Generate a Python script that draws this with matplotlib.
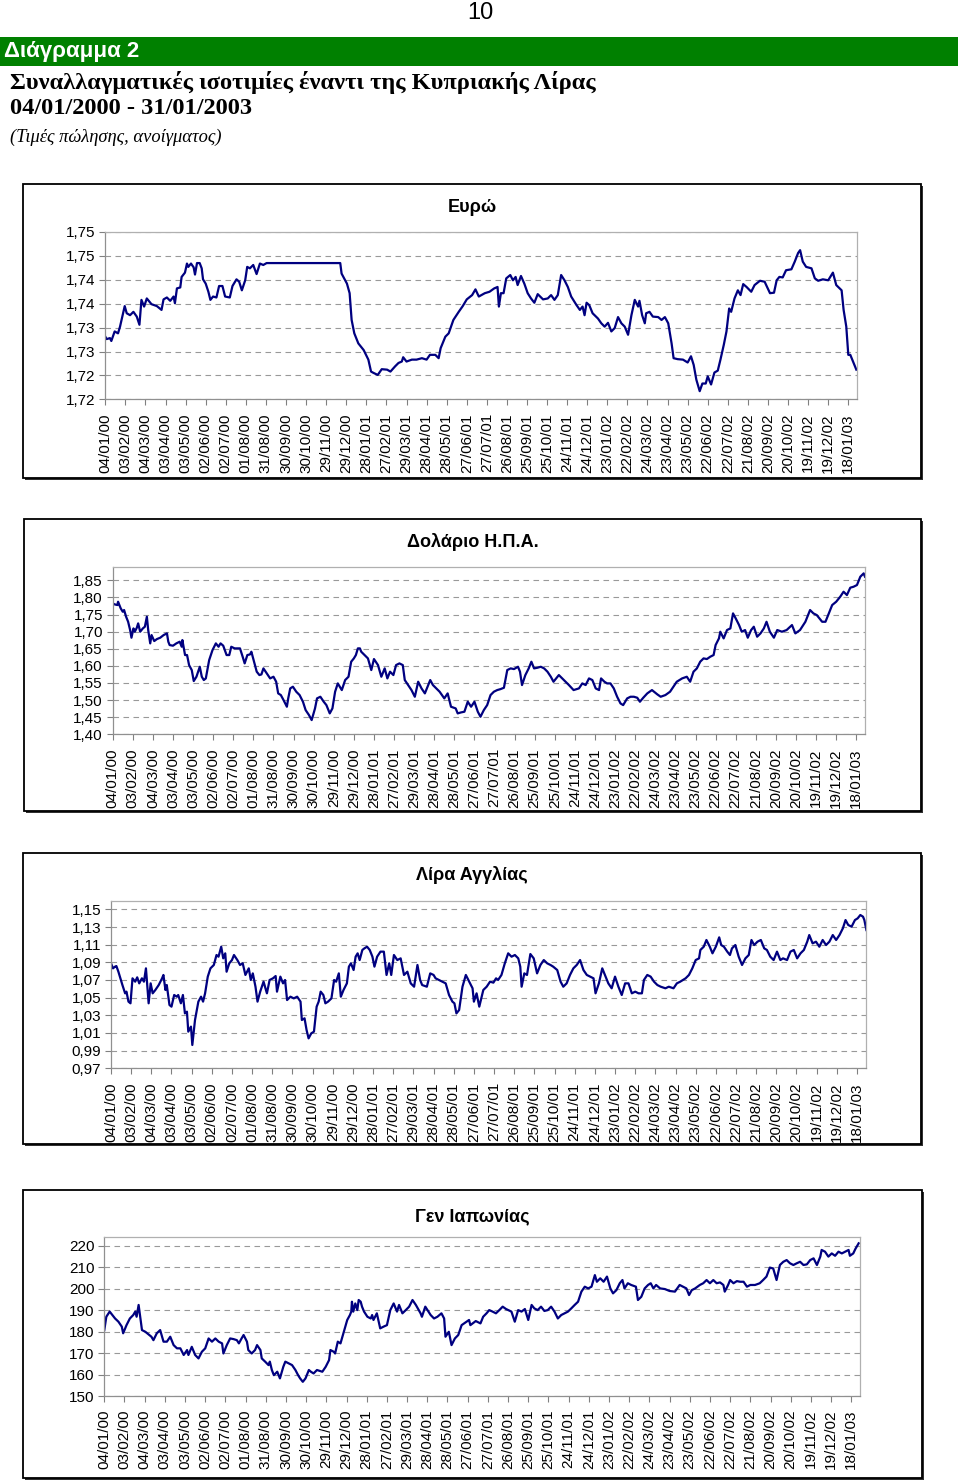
import matplotlib
matplotlib.use("Agg")
import matplotlib.pyplot as plt
from matplotlib.patches import Rectangle
import pandas as pd

plt.rcParams['font.family'] = ['Liberation Sans', 'DejaVu Sans']

# ---------------- data ----------------
START = "2000-01-04"
END = "2003-01-31"

xtick_labels = ["04/01/00", "03/02/00", "04/03/00", "03/04/00", "03/05/00", "02/06/00",
                "02/07/00", "01/08/00", "31/08/00", "30/09/00", "30/10/00", "29/11/00",
                "29/12/00", "28/01/01", "27/02/01", "29/03/01", "28/04/01", "28/05/01",
                "27/06/01", "27/07/01", "26/08/01", "25/09/01", "25/10/01", "24/11/01",
                "24/12/01", "23/01/02", "22/02/02", "24/03/02", "23/04/02", "23/05/02",
                "22/06/02", "22/07/02", "21/08/02", "20/09/02", "20/10/02", "19/11/02",
                "19/12/02", "18/01/03"]

# days after 04/01/2000
eur_days = [0, 2, 7, 9, 14, 19, 22, 26, 29, 32, 37, 42, 47, 51, 54, 58, 62, 69, 77, 84, 87, 92, 97,
            102, 104, 107, 112, 114, 119, 122, 124, 128, 132, 134, 137, 141, 144, 146, 150, 154,
            157, 161, 166, 170, 175, 179, 186, 190, 196, 200, 204, 209, 212, 216, 221, 226, 231,
            236, 241, 351, 353, 361, 365, 368, 372, 378, 386, 393, 397, 401, 407, 413, 421, 426,
            433, 438, 443, 445, 450, 458, 465, 473, 480, 485, 493, 498, 501, 508, 513, 520, 528,
            534, 540, 548, 553, 558, 567, 574, 581, 586, 588, 591, 595, 599, 605, 609, 613, 616,
            621, 626, 631, 636, 641, 646, 654, 661, 666, 671, 676, 681, 686, 691, 696, 704, 709,
            713, 716, 719, 723, 728, 736, 741, 746, 751, 756, 761, 766, 771, 776, 781, 786, 791,
            796, 798, 802, 806, 808, 813, 818, 826, 831, 836, 841, 846, 849, 855, 863, 870, 875,
            879, 883, 888, 892, 897, 900, 905, 910, 915, 919, 924, 928, 932, 935, 940, 945, 949,
            953, 958, 965, 970, 978, 985, 993, 999, 1003, 1007, 1012, 1017, 1025, 1030, 1035,
            1038, 1042, 1047, 1055, 1060, 1065, 1072, 1080, 1087, 1092, 1100, 1103, 1107, 1110,
            1113, 1117, 1122]
eur_rate = [1.7281, 1.7276, 1.7278, 1.7272, 1.7292, 1.7288, 1.7302, 1.7326, 1.7345, 1.7330, 1.7326,
            1.7333, 1.7323, 1.7306, 1.7358, 1.7344, 1.7361, 1.7349, 1.7345, 1.7337, 1.7359, 1.7363,
            1.7356, 1.7365, 1.7351, 1.7382, 1.7384, 1.7406, 1.7415, 1.7434, 1.7427, 1.7434, 1.7426,
            1.7411, 1.7435, 1.7435, 1.7424, 1.7401, 1.7392, 1.7375, 1.7358, 1.7365, 1.7363, 1.7387,
            1.7387, 1.7365, 1.7363, 1.7387, 1.7401, 1.7396, 1.7378, 1.7399, 1.7427, 1.7424, 1.7431,
            1.7412, 1.7434, 1.7431, 1.7435, 1.7435, 1.7413, 1.7392, 1.7372, 1.7316, 1.7288, 1.7267,
            1.7253, 1.7233, 1.7208, 1.7205, 1.7201, 1.7213, 1.7212, 1.7208, 1.7219, 1.7226, 1.7229,
            1.7238, 1.7229, 1.7233, 1.7233, 1.7236, 1.7233, 1.7243, 1.7243, 1.7236, 1.7257, 1.7281,
            1.7288, 1.7316, 1.7333, 1.7345, 1.7359, 1.7368, 1.7380, 1.7365, 1.7372, 1.7375, 1.7382,
            1.7385, 1.7344, 1.7372, 1.7372, 1.7403, 1.7410, 1.7399, 1.7406, 1.7389, 1.7408, 1.7392,
            1.7372, 1.7361, 1.7352, 1.7370, 1.7359, 1.7361, 1.7368, 1.7358, 1.7368, 1.7410, 1.7399,
            1.7385, 1.7365, 1.7347, 1.7337, 1.7344, 1.7326, 1.7352, 1.7347, 1.7330, 1.7319, 1.7309,
            1.7302, 1.7310, 1.7292, 1.7299, 1.7322, 1.7309, 1.7302, 1.7285, 1.7326, 1.7358, 1.7344,
            1.7356, 1.7326, 1.7309, 1.7330, 1.7333, 1.7323, 1.7322, 1.7316, 1.7322, 1.7309, 1.7267,
            1.7236, 1.7234, 1.7233, 1.7227, 1.7240, 1.7222, 1.7191, 1.7167, 1.7183, 1.7183, 1.7198,
            1.7181, 1.7206, 1.7210, 1.7233, 1.7264, 1.7292, 1.7340, 1.7333, 1.7361, 1.7378, 1.7368,
            1.7391, 1.7385, 1.7375, 1.7389, 1.7398, 1.7396, 1.7372, 1.7373, 1.7399, 1.7406, 1.7405,
            1.7420, 1.7422, 1.7438, 1.7456, 1.7462, 1.7438, 1.7427, 1.7424, 1.7403, 1.7398, 1.7401,
            1.7399, 1.7415, 1.7389, 1.7378, 1.7337, 1.7302, 1.7243, 1.7243, 1.7229, 1.7212]

usd_days = [0, 3, 7, 8, 12, 15, 17, 20, 23, 26, 28, 31, 33, 36, 38, 41, 45, 48, 51, 53, 56, 58, 62,
            66, 71, 76, 81, 83, 85, 90, 95, 100, 103, 104, 108, 111, 114, 118, 121, 125, 130, 133,
            136, 139, 144, 149, 154, 158, 161, 165, 170, 174, 177, 182, 187, 190, 194, 197, 201,
            205, 207, 211, 215, 219, 222, 225, 230, 235, 240, 244, 247, 251, 255, 260, 262, 265,
            269, 274, 279, 284, 288, 293, 297, 302, 305, 310, 315, 319, 324, 328, 332, 336, 342,
            347, 352, 356, 360, 363, 366, 369, 371, 376, 381, 386, 390, 396, 401, 406, 410, 414,
            419, 423, 428, 433, 436, 441, 446, 451, 456, 461, 466, 471, 474, 478, 483, 488, 495,
            500, 505, 512, 515, 520, 525, 530, 535, 540, 545, 549, 554, 559, 564, 569, 574, 579,
            584, 589, 594, 599, 605, 608, 611, 616, 621, 625, 629, 634, 639, 644, 649, 654, 658,
            666, 671, 676, 681, 688, 696, 701, 706, 711, 716, 721, 726, 729, 734, 738, 743, 748,
            753, 758, 762, 768, 773, 778, 783, 787, 792, 798, 805, 813, 818, 825, 832, 837, 842,
            850, 857, 862, 867, 872, 877, 882, 887, 892, 897, 900, 905, 907, 912, 917, 922, 926,
            930, 935, 939, 944, 948, 953, 957, 962, 967, 972, 976, 981, 987, 992, 999, 1006, 1014,
            1019, 1026, 1034, 1041, 1046, 1051, 1059, 1064, 1069, 1074, 1080, 1086, 1091, 1096,
            1101, 1106, 1111, 1116, 1121, 1123]
usd_rate = [1.7827, 1.7798, 1.7779, 1.7876, 1.7681, 1.7584, 1.7633, 1.7438, 1.7291, 1.7048, 1.6824,
            1.7096, 1.6999, 1.7116, 1.7243, 1.6999, 1.7096, 1.7145, 1.7438, 1.7048, 1.6658, 1.6901,
            1.6726, 1.6784, 1.6824, 1.6901, 1.6950, 1.6707, 1.6609, 1.6590, 1.6658, 1.6707, 1.6560,
            1.6755, 1.6317, 1.6317, 1.6024, 1.5878, 1.5557, 1.5683, 1.5975, 1.5683, 1.5586, 1.5634,
            1.6170, 1.6463, 1.6658, 1.6560, 1.6658, 1.6590, 1.6317, 1.6317, 1.6560, 1.6512, 1.6512,
            1.6512, 1.6268, 1.6073, 1.6317, 1.6336, 1.6414, 1.6122, 1.5830, 1.5732, 1.5751, 1.5927,
            1.5781, 1.5634, 1.5683, 1.5537, 1.5196, 1.5147, 1.5001, 1.4806, 1.5050, 1.5342, 1.5391,
            1.5245, 1.5147, 1.4952, 1.4708, 1.4562, 1.4416, 1.4757, 1.5050, 1.5098, 1.4952, 1.4854,
            1.4611, 1.4757, 1.5245, 1.5488, 1.5293, 1.5586, 1.5683, 1.6122, 1.6219, 1.6317, 1.6512,
            1.6512, 1.6414, 1.6317, 1.6219, 1.5878, 1.6200, 1.6024, 1.5683, 1.5927, 1.5634, 1.5830,
            1.5732, 1.6024, 1.6073, 1.6024, 1.5586, 1.5440, 1.5293, 1.5098, 1.5537, 1.5342, 1.5196,
            1.5440, 1.5586, 1.5440, 1.5342, 1.5245, 1.5050, 1.5196, 1.4806, 1.4757, 1.4611, 1.4640,
            1.4660, 1.4952, 1.4806, 1.4952, 1.4660, 1.4513, 1.4708, 1.4854, 1.5147, 1.5245, 1.5293,
            1.5322, 1.5361, 1.5878, 1.5927, 1.5907, 1.5975, 1.5830, 1.5439, 1.5732, 1.5927, 1.6122,
            1.5927, 1.5946, 1.5975, 1.5927, 1.5830, 1.5683, 1.5537, 1.5732, 1.5634, 1.5537, 1.5440,
            1.5293, 1.5342, 1.5488, 1.5440, 1.5634, 1.5586, 1.5342, 1.5293, 1.5634, 1.5537, 1.5488,
            1.5488, 1.5342, 1.5098, 1.4903, 1.4854, 1.5050, 1.5098, 1.5098, 1.5069, 1.4952, 1.5069,
            1.5196, 1.5293, 1.5167, 1.5098, 1.5147, 1.5245, 1.5391, 1.5537, 1.5634, 1.5683, 1.5537,
            1.5830, 1.5927, 1.6122, 1.6219, 1.6200, 1.6268, 1.6317, 1.6609, 1.6804, 1.6999, 1.6804,
            1.7048, 1.7096, 1.7535, 1.7389, 1.7194, 1.6999, 1.7048, 1.6824, 1.7048, 1.7145, 1.6853,
            1.6950, 1.7096, 1.7290, 1.6999, 1.6824, 1.7048, 1.6999, 1.7048, 1.7194, 1.6950, 1.7048,
            1.7290, 1.7633, 1.7535, 1.7486, 1.7290, 1.7290, 1.7535, 1.7779, 1.7876, 1.8022, 1.8169,
            1.8071, 1.8286, 1.8315, 1.8364, 1.8607, 1.8705, 1.8607]

gbp_days = [0, 3, 6, 8, 11, 14, 17, 21, 23, 26, 29, 32, 36, 39, 42, 46, 49, 52, 56, 59, 62, 66, 71,
            76, 78, 81, 83, 87, 90, 94, 98, 100, 104, 107, 110, 113, 115, 119, 121, 125, 130, 134,
            137, 140, 144, 148, 153, 157, 160, 164, 167, 170, 172, 176, 180, 183, 188, 192, 196,
            200, 205, 208, 211, 215, 218, 222, 227, 232, 236, 241, 245, 247, 252, 256, 259, 262,
            267, 272, 277, 282, 284, 288, 291, 294, 298, 302, 306, 309, 312, 316, 319, 323, 328,
            332, 335, 339, 342, 346, 351, 354, 357, 361, 364, 367, 370, 374, 377, 381, 385, 389,
            392, 396, 401, 406, 410, 414, 417, 421, 426, 431, 436, 441, 446, 451, 456, 460, 463,
            470, 475, 480, 483, 488, 493, 498, 503, 508, 511, 514, 518, 523, 528, 533, 538, 540,
            544, 548, 554, 559, 564, 569, 573, 576, 581, 586, 591, 596, 601, 606, 609, 611, 615,
            619, 624, 629, 634, 639, 644, 649, 654, 658, 664, 669, 673, 678, 683, 688, 693, 698,
            703, 708, 713, 718, 721, 726, 731, 736, 740, 745, 750, 755, 760, 765, 770, 775, 780,
            785, 790, 793, 798, 803, 808, 813, 818, 825, 830, 837, 842, 847, 855, 860, 865, 870,
            875, 877, 882, 886, 891, 895, 900, 905, 908, 912, 917, 921, 924, 929, 934, 939, 944,
            949, 953, 957, 962, 967, 972, 976, 981, 986, 991, 996, 1000, 1006, 1011, 1016, 1021,
            1026, 1031, 1036, 1039, 1044, 1049, 1054, 1059, 1064, 1069, 1074, 1079, 1084, 1089,
            1093, 1097, 1102, 1107, 1111, 1115, 1119, 1121, 1124]
gbp_rate = [1.0889, 1.0832, 1.0851, 1.0858, 1.0794, 1.0719, 1.0643, 1.0549, 1.0568, 1.0455, 1.0436,
            1.0719, 1.0681, 1.0730, 1.0662, 1.0719, 1.0681, 1.0832, 1.0436, 1.0662, 1.0549, 1.0587,
            1.0643, 1.0719, 1.0757, 1.0587, 1.0643, 1.0417, 1.0398, 1.0530, 1.0511, 1.0530, 1.0436,
            1.0530, 1.0322, 1.0341, 1.0115, 1.0172, 0.9964, 1.0247, 1.0455, 1.0511, 1.0455, 1.0549,
            1.0738, 1.0832, 1.0870, 1.0983, 1.0964, 1.1077, 1.0945, 1.1002, 1.0794, 1.0889, 1.0926,
            1.0983, 1.0926, 1.0870, 1.0889, 1.0757, 1.0832, 1.0700, 1.0775, 1.0624, 1.0455, 1.0568,
            1.0681, 1.0549, 1.0700, 1.0719, 1.0745, 1.0568, 1.0738, 1.0662, 1.0700, 1.0473, 1.0511,
            1.0492, 1.0511, 1.0455, 1.0247, 1.0266, 1.0134, 1.0039, 1.0096, 1.0115, 1.0398, 1.0455,
            1.0568, 1.0530, 1.0436, 1.0455, 1.0492, 1.0700, 1.0681, 1.0775, 1.0511, 1.0587, 1.0662,
            1.0851, 1.0889, 1.0813, 1.0964, 1.1002, 1.0926, 1.1040, 1.1058, 1.1077, 1.1040, 1.0964,
            1.0851, 1.0964, 1.1021, 1.1021, 1.0757, 1.0889, 1.0757, 1.0983, 1.0926, 1.0945, 1.0757,
            1.0794, 1.0662, 1.0624, 1.0870, 1.0700, 1.0643, 1.0624, 1.0775, 1.0757, 1.0719, 1.0700,
            1.0681, 1.0662, 1.0530, 1.0455, 1.0436, 1.0322, 1.0360, 1.0624, 1.0757, 1.0681, 1.0606,
            1.0455, 1.0549, 1.0398, 1.0587, 1.0624, 1.0681, 1.0670, 1.0719, 1.0700, 1.0757, 1.0889,
            1.1002, 1.0964, 1.0983, 1.0945, 1.0851, 1.0624, 1.0775, 1.0757, 1.0994, 1.0945, 1.0775,
            1.0870, 1.0926, 1.0889, 1.0870, 1.0851, 1.0813, 1.0681, 1.0624, 1.0662, 1.0757, 1.0832,
            1.0870, 1.0926, 1.0813, 1.0757, 1.0738, 1.0719, 1.0549, 1.0662, 1.0832, 1.0738, 1.0662,
            1.0606, 1.0738, 1.0624, 1.0530, 1.0662, 1.0662, 1.0549, 1.0568, 1.0549, 1.0549, 1.0700,
            1.0757, 1.0738, 1.0681, 1.0643, 1.0624, 1.0606, 1.0624, 1.0606, 1.0662, 1.0681, 1.0719,
            1.0757, 1.0832, 1.0926, 1.0945, 1.1040, 1.1077, 1.1153, 1.1077, 1.1002, 1.1077, 1.1183,
            1.1096, 1.1077, 1.1021, 1.0983, 1.1058, 1.1096, 1.0964, 1.0870, 1.0945, 1.0983, 1.1153,
            1.1096, 1.1134, 1.1153, 1.1058, 1.1040, 1.0964, 1.0926, 1.1021, 1.0926, 1.0945, 1.0926,
            1.1021, 1.1040, 1.0945, 1.1002, 1.1040, 1.1134, 1.1209, 1.1115, 1.1134, 1.1077, 1.1153,
            1.1096, 1.1134, 1.1209, 1.1153, 1.1209, 1.1285, 1.1379, 1.1323, 1.1304, 1.1379, 1.1398,
            1.1436, 1.1417, 1.1379, 1.1266]

jpy_days = [0, 3, 8, 16, 21, 26, 28, 33, 38, 43, 46, 48, 51, 56, 61, 70, 73, 78, 83, 88, 93, 98,
            103, 108, 113, 118, 123, 125, 130, 135, 140, 145, 150, 155, 160, 165, 170, 175, 177,
            182, 187, 192, 197, 200, 204, 207, 212, 214, 219, 224, 227, 232, 234, 239, 244, 246,
            249, 252, 257, 261, 266, 269, 274, 279, 284, 288, 291, 295, 299, 304, 307, 311, 316,
            324, 329, 334, 336, 341, 343, 347, 351, 356, 361, 365, 367, 368, 370, 373, 376, 378,
            381, 383, 386, 391, 396, 398, 400, 405, 410, 415, 420, 425, 430, 435, 438, 443, 448,
            453, 458, 463, 470, 472, 477, 485, 490, 495, 501, 505, 507, 512, 516, 521, 526, 531,
            537, 542, 544, 552, 559, 563, 568, 572, 577, 582, 587, 592, 597, 605, 610, 615, 620,
            625, 630, 635, 639, 644, 649, 654, 659, 664, 669, 674, 679, 684, 689, 694, 699, 704,
            709, 714, 719, 724, 729, 732, 737, 742, 747, 752, 756, 761, 766, 770, 773, 778, 783,
            790, 793, 798, 803, 808, 812, 816, 820, 826, 833, 840, 848, 855, 860, 865, 869, 873,
            878, 885, 890, 895, 900, 905, 910, 915, 920, 922, 927, 930, 935, 940, 945, 950, 955,
            960, 967, 974, 979, 984, 989, 994, 999, 1004, 1009, 1014, 1019, 1024, 1029, 1034, 1039,
            1044, 1049, 1054, 1059, 1064, 1066, 1071, 1076, 1081, 1086, 1091, 1096, 1101, 1106,
            1108, 1113, 1116, 1121]
jpy_rate = [180.7, 186.9, 189.3, 186.1, 184.6, 182.3, 179.2, 183.0, 186.1, 187.7, 189.3, 186.9,
            192.4, 180.7, 179.9, 177.6, 176.0, 179.2, 180.7, 175.3, 175.3, 177.6, 173.7, 172.2,
            172.2, 169.1, 171.4, 169.1, 172.9, 169.1, 167.5, 170.6, 172.2, 176.8, 175.3, 176.8,
            175.3, 174.5, 169.8, 173.7, 176.8, 176.5, 176.0, 174.5, 176.8, 178.4, 175.3, 171.4,
            169.8, 171.4, 173.7, 171.4, 167.5, 166.0, 164.4, 166.0, 162.1, 159.7, 161.3, 158.2,
            163.6, 166.0, 165.2, 164.4, 162.1, 159.7, 158.2, 156.6, 158.2, 162.1, 161.3, 160.5,
            162.1, 161.3, 163.6, 166.7, 171.4, 170.6, 169.8, 175.3, 174.5, 179.9, 185.4, 187.7,
            189.3, 193.9, 189.3, 193.1, 190.0, 194.7, 193.9, 191.6, 189.3, 186.9, 186.1, 187.7,
            185.4, 188.5, 181.5, 182.3, 183.0, 190.0, 193.1, 189.3, 192.4, 188.5, 190.0, 191.6,
            194.7, 192.4, 188.5, 186.9, 191.6, 187.7, 186.1, 186.9, 188.5, 186.1, 177.6, 179.9,
            173.7, 176.8, 178.4, 183.0, 184.3, 185.4, 183.0, 184.9, 183.8, 186.9, 188.5, 190.0,
            189.3, 188.5, 190.0, 191.6, 190.5, 189.3, 184.6, 190.0, 189.3, 190.5, 185.4, 192.4,
            190.8, 190.0, 191.6, 189.6, 190.0, 191.6, 189.3, 186.1, 187.7, 188.5, 189.3, 190.8,
            192.4, 193.9, 198.6, 200.9, 200.1, 200.9, 206.3, 203.2, 204.8, 203.2, 205.6, 200.1,
            197.8, 199.3, 202.5, 204.0, 200.1, 202.5, 201.7, 200.9, 194.7, 196.2, 200.1, 201.7,
            202.5, 200.1, 201.7, 200.1, 199.8, 198.9, 198.6, 201.7, 200.9, 200.1, 197.0, 199.3,
            200.1, 201.7, 202.5, 204.0, 202.5, 204.0, 202.5, 202.9, 201.7, 198.6, 201.7, 204.0,
            202.5, 203.5, 203.2, 203.2, 200.9, 201.7, 201.7, 202.5, 204.0, 205.6, 209.8, 209.4,
            204.0, 211.0, 212.5, 213.3, 211.8, 211.0, 211.8, 212.5, 211.0, 211.3, 213.3, 214.1,
            211.0, 214.9, 218.0, 217.2, 214.9, 216.4, 215.3, 217.2, 216.4, 217.2, 218.0, 215.3,
            216.4, 218.4, 221.1]

eur_yticks = [1.715, 1.72, 1.725, 1.73, 1.735, 1.74, 1.745, 1.75]
eur_ylabels = ["1,72", "1,72", "1,73", "1,73", "1,74", "1,74", "1,75", "1,75"]
usd_yticks = [1.40, 1.45, 1.50, 1.55, 1.60, 1.65, 1.70, 1.75, 1.80, 1.85]
usd_ylabels = ["1,40", "1,45", "1,50", "1,55", "1,60", "1,65", "1,70", "1,75", "1,80", "1,85"]
gbp_yticks = [0.97, 0.99, 1.01, 1.03, 1.05, 1.07, 1.09, 1.11, 1.13, 1.15]
gbp_ylabels = ["0,97", "0,99", "1,01", "1,03", "1,05", "1,07", "1,09", "1,11", "1,13", "1,15"]
jpy_yticks = [150, 160, 170, 180, 190, 200, 210, 220]
jpy_ylabels = ["150", "160", "170", "180", "190", "200", "210", "220"]

titles = ["Ευρώ", "Δολάριο Η.Π.Α.", "Λίρα Αγγλίας", "Γεν Ιαπωνίας"]

# ---------------- layout (pixels) ----------------
W, H = 960, 1481
fig = plt.figure(figsize=(W / 100, H / 100), dpi=100)


def fig_rect(l, t, r, b):
    return [l / W, 1 - b / H, (r - l) / W, (b - t) / H]


SERIF = ["Liberation Serif", "DejaVu Serif"]

# header
fig.text(480 / W, 1 - 13 / H, "10", ha="center", va="center", fontsize=17)
fig.patches.append(Rectangle((0, 1 - 66 / H), 958 / W, 29 / H, transform=fig.transFigure,
                             facecolor="#008000", edgecolor="none"))
fig.text(4 / W, 1 - 52 / H, "Διάγραμμα 2", ha="left", va="center", fontsize=16,
         fontweight="bold", color="white")
fig.text(10 / W, 1 - 82 / H, "Συναλλαγματικές ισοτιμίες έναντι της Κυπριακής Λίρας",
         ha="left", va="center", fontsize=17.6, fontweight="bold", family=SERIF)
fig.text(10 / W, 1 - 108 / H, "04/01/2000 - 31/01/2003", ha="left", va="center",
         fontsize=17.6, fontweight="bold", family=SERIF)
fig.text(10 / W, 1 - 137 / H, "(Τιμές πώλησης, ανοίγματος)", ha="left", va="center",
         fontsize=13.3, style="italic", family=SERIF)

panels = [
    dict(box=(23, 184, 921, 478), plot=(105.3, 232, 857, 399.3), ty=207,
         days=eur_days, vals=eur_rate, yt=eur_yticks, yl=eur_ylabels, ylim=(1.715, 1.75)),
    dict(box=(24, 519, 921, 811), plot=(112.7, 566.7, 865, 734.3), ty=542,
         days=usd_days, vals=usd_rate, yt=usd_yticks, yl=usd_ylabels, ylim=(1.40, 1.890)),
    dict(box=(23, 853, 921, 1144), plot=(111, 900.7, 865.7, 1068.3), ty=875,
         days=gbp_days, vals=gbp_rate, yt=gbp_yticks, yl=gbp_ylabels, ylim=(0.97, 1.1598)),
    dict(box=(23, 1190, 922, 1478), plot=(104.3, 1237.3, 860, 1396), ty=1217,
         days=jpy_days, vals=jpy_rate, yt=jpy_yticks, yl=jpy_ylabels, ylim=(150, 223.9)),
]

start = pd.Timestamp(START)
xticks = pd.to_datetime(xtick_labels, format="%d/%m/%y")

for p, title in zip(panels, titles):
    bl, bt, br, bb = p["box"]
    # shadow and frame
    fig.patches.append(Rectangle(((bl + 2) / W, 1 - (bb + 2) / H), (br - bl) / W, (bb - bt) / H,
                                 transform=fig.transFigure, facecolor="#303030",
                                 edgecolor="none", zorder=-3))
    fig.patches.append(Rectangle((bl / W, 1 - bb / H), (br - bl) / W, (bb - bt) / H,
                                 transform=fig.transFigure, facecolor="white",
                                 edgecolor="black", linewidth=1.3, zorder=-2))
    fig.text((bl + br) / 2 / W, 1 - p["ty"] / H, title, ha="center",
             va="center", fontsize=13, fontweight="bold")

    ax = fig.add_axes(fig_rect(*p["plot"]))
    dates = start + pd.to_timedelta(p["days"], unit="D")
    ax.plot(dates, p["vals"], color="#000080", linewidth=1.6, solid_joinstyle="round")
    ax.set_xlim(pd.Timestamp(START), pd.Timestamp(END))
    ax.set_ylim(*p["ylim"])
    ax.set_yticks(p["yt"])
    ax.set_yticklabels(p["yl"], fontsize=11)
    ax.set_xticks(xticks)
    ax.set_xticklabels(xtick_labels, rotation=90, fontsize=11)
    ax.tick_params(axis="x", length=4, color="#808080", pad=6)
    ax.tick_params(axis="y", length=4, color="#808080", pad=3)
    ax.yaxis.grid(True, linestyle=(0, (5, 4)), color="#999999", linewidth=0.8)
    ax.set_axisbelow(True)
    for s in ax.spines.values():
        s.set_color("#b0b0b0")
        s.set_linewidth(0.9)
    ax.spines["left"].set_color("#909090")
    ax.spines["bottom"].set_color("#909090")

fig.savefig("out.png", dpi=100)
